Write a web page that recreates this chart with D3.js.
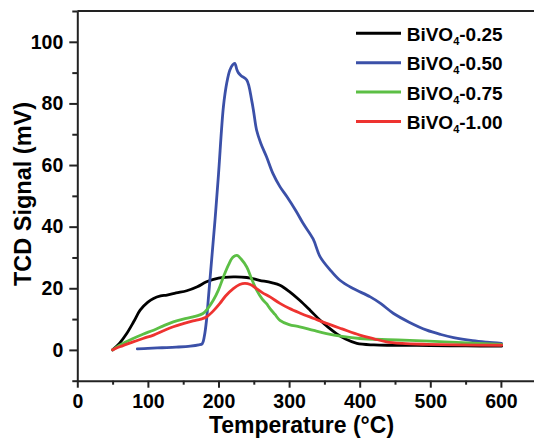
<!DOCTYPE html>
<html>
<head>
<meta charset="utf-8">
<script src="https://cdn.jsdelivr.net/npm/d3@7"></script>
<style>
  html, body { margin: 0; padding: 0; background: #fff; }
  svg { display: block; }
  text { font-family: "Liberation Sans", Arial, Helvetica, sans-serif; font-weight: bold; fill: #000; }
</style>
</head>
<body>
<svg id="chart" width="534" height="439"></svg>
<script>
// TPR profiles (TCD signal vs temperature) for BiVO4 samples
const seriesNames = ["0.25", "0.50", "0.75", "1.00"];
const seriesColors = ["#000000", "#3b50a8", "#5cbf45", "#ee3330"];

const temp025 = [50, 60, 70, 80, 89, 100, 108, 118, 127, 140, 155, 170, 183, 200, 221, 240, 258, 275, 287, 300, 315, 330, 344, 356, 367, 380, 396, 420, 448, 500, 550, 601];
const tcd025  = [0, 2.2, 5.3, 9.2, 12.9, 15.5, 16.7, 17.5, 17.8, 18.5, 19.2, 20.5, 22.1, 23.3, 23.7, 23.5, 22.6, 21.8, 21.0, 19.0, 16.1, 12.8, 9.6, 7.2, 5.3, 3.5, 2.1, 1.6, 1.5, 1.4, 1.3, 1.2];

const temp050 = [85, 100, 120, 140, 160, 172, 177, 180, 183, 186, 190, 195, 200, 207, 212, 216, 220, 223, 226, 228, 232, 240, 247, 250, 254, 260, 268, 277, 287, 297, 310, 320, 334, 344, 358, 372, 390, 415, 430, 448, 470, 495, 515, 533, 560, 580, 601];
const tcd050  = [0.3, 0.5, 0.7, 0.9, 1.2, 1.6, 2.0, 4.5, 9.6, 17.7, 28.5, 42, 57, 79, 87, 90.8, 92.5, 93, 91, 90, 89, 87.6, 81, 77, 71.3, 67, 62.7, 57.3, 53, 49.7, 45, 41, 36, 30.2, 26, 22.6, 20, 17.2, 15, 11.8, 9, 6.4, 5, 4, 3, 2.5, 2.1];

const temp075 = [50, 60, 79, 93, 108, 122, 136, 150, 164, 178, 185, 192.6, 200, 207, 214, 220, 226, 232, 240, 247, 254, 262, 268, 273, 280, 287, 300, 315, 335, 353, 375, 400, 440, 471, 520, 560, 601];
const tcd075  = [0, 1.5, 3.7, 5.1, 6.4, 7.8, 9.1, 10, 10.7, 11.8, 13.5, 16.1, 19.5, 23.7, 27.5, 30, 30.7, 29.5, 26.9, 23, 19.4, 16.5, 15, 13.4, 11.5, 9.6, 8.2, 7.5, 6.3, 5.3, 4.4, 3.7, 3.3, 3.1, 2.6, 2.2, 1.8];

const temp100 = [50, 60, 79, 93, 108, 122, 136, 150, 164, 175, 183, 192, 202, 210, 221, 230, 237.5, 245, 254, 262, 273, 287, 300, 315, 335, 353, 375, 400, 420, 438, 460, 495, 540, 601];
const tcd100  = [0, 1.0, 2.6, 3.7, 4.8, 6.2, 7.5, 8.5, 9.4, 10.0, 10.7, 12.5, 15.1, 17.5, 19.9, 21.2, 21.6, 21.2, 19.9, 18.6, 17.2, 15.1, 13.5, 12, 10.2, 8.6, 6.8, 4.8, 3.6, 2.6, 2.1, 1.8, 1.6, 1.5];

const xMajorTicks = [0, 100, 200, 300, 400, 500, 600];
const xMinorTicks = [50, 150, 250, 350, 450, 550, 650];
const yMajorTicks = [0, 20, 40, 60, 80, 100];
const yMinorTicks = [-10, 10, 30, 50, 70, 90, 110];

const temps = [temp025, temp050, temp075, temp100];
const signals = [tcd025, tcd050, tcd075, tcd100];

const svg = d3.select("#chart");

const plot = { left: 77.3, right: 536.2, top: 11, bottom: 380.7 };
const x = d3.scaleLinear().domain([0, 650]).range([plot.left, plot.right]);
const y = d3.scaleLinear().domain([-10, 110]).range([plot.bottom, plot.top]);

const axisColor = "#222";

// top frame line
svg.append("line")
  .attr("x1", x(0)).attr("x2", x(650))
  .attr("y1", y(110)).attr("y2", y(110))
  .attr("stroke", axisColor).attr("stroke-width", 2);

// x axis: major ticks with labels, minor ticks without
const gx = svg.append("g").attr("transform", `translate(0,${plot.bottom})`);
gx.call(d3.axisBottom(x).tickValues(xMajorTicks).tickFormat(d3.format("d"))
  .tickSize(7).tickSizeOuter(0).tickPadding(6));
gx.append("g").call(d3.axisBottom(x).tickValues(xMinorTicks).tickFormat("")
  .tickSize(4).tickSizeOuter(0))
  .select(".domain").remove();

// y axis
const gy = svg.append("g").attr("transform", `translate(${plot.left},0)`);
gy.call(d3.axisLeft(y).tickValues(yMajorTicks).tickFormat(d3.format("d"))
  .tickSize(8).tickSizeOuter(0).tickPadding(6));
gy.append("g").call(d3.axisLeft(y).tickValues(yMinorTicks).tickFormat("")
  .tickSize(5).tickSizeOuter(0))
  .select(".domain").remove();

svg.selectAll(".domain").attr("stroke", axisColor).attr("stroke-width", 2);
svg.selectAll(".tick line").attr("stroke", axisColor).attr("stroke-width", 2);
svg.selectAll(".tick text")
  .attr("fill", "#000")
  .style("font-family", '"Liberation Sans", Arial, sans-serif')
  .style("font-weight", "bold")
  .style("font-size", "19.5px");

// axis titles
svg.append("text")
  .attr("x", 301.5).attr("y", 432.8)
  .attr("text-anchor", "middle")
  .style("font-size", "23px")
  .text("Temperature (°C)");

svg.append("text")
  .attr("transform", "translate(31,194) rotate(-90)")
  .attr("text-anchor", "middle")
  .style("font-size", "23.5px")
  .text("TCD Signal (mV)");

// profiles
const line = d3.line()
  .x(d => x(d[0]))
  .y(d => y(d[1]))
  .curve(d3.curveCatmullRom.alpha(0.5));

seriesNames.forEach((name, i) => {
  const pts = temps[i].map((t, k) => [t, signals[i][k]]);
  svg.append("path")
    .datum(pts)
    .attr("d", line)
    .attr("fill", "none")
    .attr("stroke", seriesColors[i])
    .attr("stroke-width", 2.8)
    .attr("stroke-linejoin", "round")
    .attr("stroke-linecap", "round");
});

// legend
const legend = svg.append("g");
seriesNames.forEach((name, i) => {
  const ly = 33.3 + i * 29.4;
  legend.append("line")
    .attr("x1", 356).attr("x2", 401)
    .attr("y1", ly).attr("y2", ly)
    .attr("stroke", seriesColors[i])
    .attr("stroke-width", 3);
  const t = legend.append("text")
    .attr("x", 406.7).attr("y", ly + 7.4)
    .style("font-size", "19px");
  t.append("tspan").text("BiVO");
  t.append("tspan").attr("dy", 4).style("font-size", "11px").text("4");
  t.append("tspan").attr("dy", -4).text("-" + name);
});
</script>
</body>
</html>
